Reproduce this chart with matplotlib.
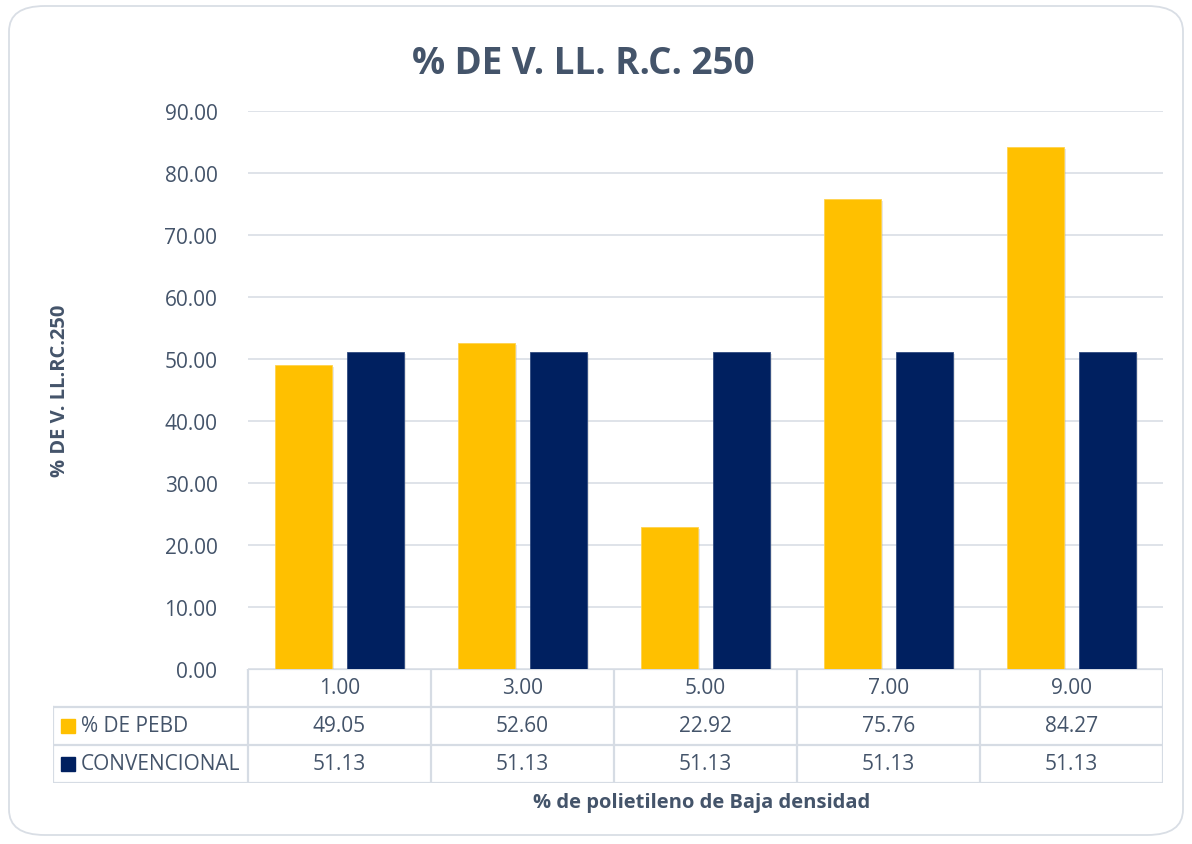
import numpy as np
import matplotlib.pyplot as plt
import matplotlib.patheffects as pe
from matplotlib.patches import FancyBboxPatch, Rectangle

plt.rcParams['font.family'] = ['Open Sans', 'DejaVu Sans']

categories = ['1.00', '3.00', '5.00', '7.00', '9.00']
pebd = [49.05, 52.60, 22.92, 75.76, 84.27]
convencional = [51.13, 51.13, 51.13, 51.13, 51.13]
series_names = ['% DE PEBD', 'CONVENCIONAL']

yellow = '#FFC000'
navy = '#002060'
txt = '#44546A'
grid_c = '#D9DEE5'

W, H = 1192, 845
fig = plt.figure(figsize=(W / 100, H / 100), dpi=100)

# rounded chart border
fig.patches.append(FancyBboxPatch((9 / W, 9 / H), 1174 / W, 829 / H,
                                  boxstyle='round,pad=0,rounding_size=0.03',
                                  transform=fig.transFigure, fill=False,
                                  edgecolor=grid_c, linewidth=1.3))

left, right, bottom, top = 248 / W, 1163 / W, 1 - 670 / H, 1 - 112 / H
ax = fig.add_axes([left, bottom, right - left, top - bottom])

x = np.arange(len(categories))
bw = 0.31
off = 0.197
shadow = [pe.SimplePatchShadow(offset=(1.5, -1.5), shadow_rgbFace='#999999', alpha=0.25), pe.Normal()]
b1 = ax.bar(x - off, pebd, bw, color=yellow, edgecolor='#FFD34D', linewidth=0.6, zorder=3)
b2 = ax.bar(x + off, convencional, bw, color=navy, edgecolor='#2F4A80', linewidth=0.6, zorder=3)
for b in list(b1) + list(b2):
    b.set_path_effects(shadow)

ax.set_xlim(-0.5, len(categories) - 0.5)
ax.set_ylim(0, 90)
ax.set_yticks(np.arange(0, 91, 10))
ax.set_yticklabels([f'{v:.2f}' for v in np.arange(0, 91, 10)])
ax.set_xticks([])
ax.tick_params(axis='y', length=0, pad=22, labelsize=15, labelcolor=txt)
ax.grid(axis='y', color=grid_c, linewidth=1.2, zorder=0)
for s in ax.spines.values():
    s.set_visible(False)

ax.set_ylabel('% DE V. LL.RC.250', fontsize=14.5, fontweight='bold', color=txt, labelpad=0)
ax.yaxis.set_label_coords(-0.195, 0.5)

fig.text(583 / W, 1 - 64 / H, '% DE V. LL. R.C. 250', ha='center', va='center',
         fontsize=26.5, fontweight='bold', color=txt)
fig.text(702 / W, 1 - 803 / H, '% de polietileno de Baja densidad', ha='center', va='center',
         fontsize=14.5, fontweight='bold', color=txt)

# data table under the plot
unit = (right - left) / len(categories)
tl = 53 / W
tab = fig.add_axes([tl, 1 - 784 / H, right - tl, (784 - 670) / H])
x0 = -0.5 - (left - tl) / unit
tab.set_xlim(x0, len(categories) - 0.5)
tab.set_ylim(0, 3)
tab.axis('off')
lc = '#D6DCE4'
lw = 1.6
tab.plot([-0.5, len(categories) - 0.5], [3, 3], color=lc, lw=lw)
for yy in [0, 1, 2]:
    tab.plot([x0, len(categories) - 0.5], [yy, yy], color=lc, lw=lw)
tab.plot([x0, x0], [0, 2], color=lc, lw=lw)
for xx in np.arange(-0.5, len(categories)):
    tab.plot([xx, xx], [0, 3], color=lc, lw=lw)

for i, c in enumerate(categories):
    tab.text(i, 2.5, c, ha='center', va='center', fontsize=15, color=txt)
    tab.text(i, 1.5, f'{pebd[i]:.2f}', ha='center', va='center', fontsize=15, color=txt)
    tab.text(i, 0.5, f'{convencional[i]:.2f}', ha='center', va='center', fontsize=15, color=txt)

sq = 14 / 183
for row, name, col in [(1.5, series_names[0], yellow), (0.5, series_names[1], navy)]:
    tab.add_patch(Rectangle((x0 + 8 / 183, row - 0.18), sq, 0.37, color=col))
    tab.text(x0 + 28 / 183, row, name, ha='left', va='center', fontsize=15, color=txt)

fig.savefig('out.png', dpi=100)
